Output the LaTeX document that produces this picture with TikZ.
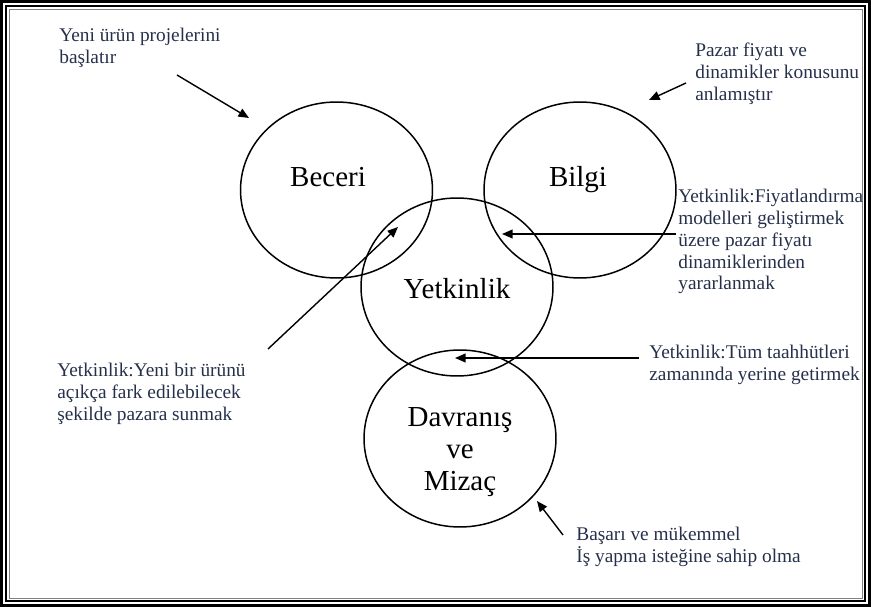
\documentclass[tikz,border=0pt]{standalone}
\usepackage{fontspec}
\setmainfont{Liberation Serif}
\usetikzlibrary{arrows.meta,shapes.geometric}
\usepackage{xcolor}
\definecolor{inkblue}{HTML}{26304A}
\definecolor{framegray}{HTML}{808080}

\tikzset{
  ring/.style={draw=black, line width=0.85pt, ellipse, minimum width=3.84cm, minimum height=3.52cm, inner sep=0pt},
  ringlabel/.style={font=\fontsize{16.5}{18.4}\selectfont, align=center, text=black, inner sep=0pt},
  note/.style={font=\fontsize{11}{12.4}\selectfont, align=left, anchor=north west, inner sep=0pt, text=inkblue},
  pointer/.style={draw=black, line width=0.8pt, -{Triangle[length=6pt,width=5pt]}},
}

\begin{document}
\begin{tikzpicture}[x=0.02cm, y=-0.02cm]

  % Page frame
  \useasboundingbox (0, 0) rectangle (871, 607);
  \draw[black, line width=3*0.569pt] (1.5, 1.5) rectangle (869.5, 605.5);
  \draw[black, line width=2*0.569pt] (6, 6) rectangle (865, 601);
  \draw[framegray, line width=0.5pt] (9.5, 9.5) rectangle (862, 598);

  % ==================== 1. RINGS ====================
  \node[ring] (beceri) at (336.5, 190) {};
  \node[ring] (bilgi) at (580, 190) {};
  \node[ring, minimum height=3.56cm] (yetkinlik) at (457, 287) {};
  \node[ring, minimum height=3.54cm] (davranis) at (460, 438.5) {};

  \node[ringlabel, anchor=base] (becerilbl) at (328, 187) {Beceri};
  \node[ringlabel, anchor=base] (bilgilbl) at (578, 187) {Bilgi};
  \node[ringlabel, anchor=base] (yetkinliklbl) at (457, 299) {Yetkinlik};
  \node[ringlabel] (davranislbl) at (460, 452) {Davranış\\ve\\Mizaç};

  % ==================== 2. NOTES ====================
  \node[note] (baslatir) at (59, 28) {Yeni ürün projelerini\\başlatır};
  \node[note] (pazar) at (695, 43) {Pazar fiyatı ve\\dinamikler konusunu\\anlamıştır};
  \node[note] (fiyat) at (678, 189) {Yetkinlik:Fiyatlandırma\\modelleri geliştirmek\\üzere pazar fiyatı\\dinamiklerinden\\yararlanmak};
  \node[note] (sunmak) at (57, 363) {Yetkinlik:Yeni bir ürünü\\açıkça fark edilebilecek\\şekilde pazara sunmak};
  \node[note] (taahhut) at (649, 345) {Yetkinlik:Tüm taahhütleri\\zamanında yerine getirmek};
  \node[note] (basari) at (576, 527) {Başarı ve mükemmel\\İş yapma isteğine sahip olma};

  % ==================== 3. POINTERS ====================
  \coordinate (baslatirtail) at (177, 75);
  \coordinate (baslatirtip) at (249, 118);
  \coordinate (pazartail) at (686, 83);
  \coordinate (pazartip) at (649, 100);
  \coordinate (fiyattail) at (676, 234);
  \coordinate (fiyattip) at (502, 234);
  \coordinate (sunmaktail) at (268, 349);
  \coordinate (sunmaktip) at (398, 227);
  \coordinate (taahhuttail) at (639, 358);
  \coordinate (taahhuttip) at (455, 358);
  \coordinate (basaritail) at (563, 535);
  \coordinate (basaritip) at (537, 501);

  \foreach \p in {baslatir, pazar, fiyat, sunmak, taahhut, basari} {
    \draw[pointer] (\p tail) -- (\p tip);
  }

\end{tikzpicture}
\end{document}
